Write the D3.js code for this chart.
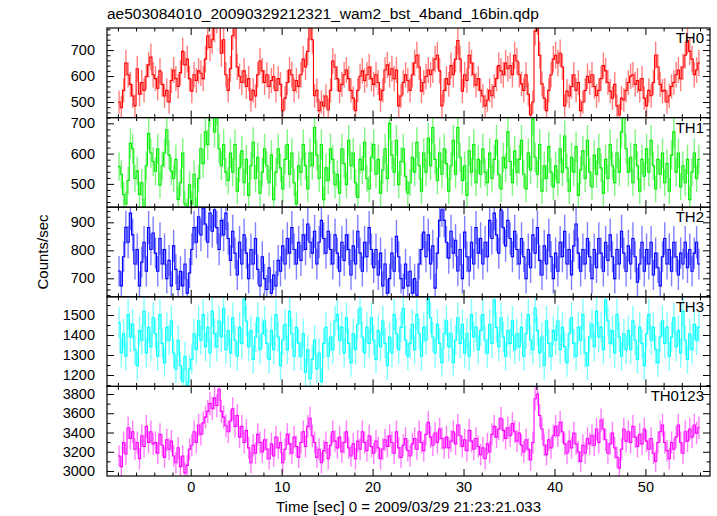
<!DOCTYPE html>
<html><head><meta charset="utf-8">
<script src="https://cdn.jsdelivr.net/npm/d3@7"></script>
<style>
body{margin:0;background:#fff;}
svg text{font-family:"Liberation Sans",Arial,Helvetica,sans-serif;fill:#000;}
</style></head>
<body><svg id="c" width="717" height="516"></svg>
<script>
const title = "ae503084010_20090329212321_wam2_bst_4band_16bin.qdp";
const xLabel = "Time [sec] 0 = 2009/03/29 21:23:21.033";
const yLabel = "Counts/sec";
const binStart = -8, binWidth = 0.25;
const xDomain = [-9.2, 57.1];
const xMajor = [0, 10, 20, 30, 40, 50];
const panelNames = ["TH0", "TH1", "TH2", "TH3", "TH0123"];
const panelColors = ["#ff0000", "#00ee00", "#0000ff", "#00ffff", "#ff00ff"];
const yDomains = [[440, 785], [423, 719], [634, 954], [1143, 1591], [2948, 3879]];
const yMajors = [[500, 600, 700], [500, 600, 700], [700, 800, 900], [1200, 1300, 1400, 1500], [3000, 3200, 3400, 3600, 3800]];
const yMinorStep = [20, 20, 20, 50, 100];

const th0 = [
500,478,545,650,605,568,523,485,628,530,575,545,598,643,673,605,
590,553,620,568,523,545,500,583,623,590,560,613,695,643,665,590,
542,605,583,620,611,590,665,755,710,740,785,822,845,688,740,605,
545,628,755,800,635,599,575,620,560,590,508,545,523,605,658,620,
575,605,560,583,598,545,590,568,467,515,575,623,605,545,583,560,
605,665,635,695,795,740,524,545,467,500,485,523,470,545,658,635,
590,542,568,605,623,590,545,515,467,545,599,620,583,605,635,590,
568,605,575,508,545,623,643,605,628,590,623,485,523,575,605,583,
545,605,650,680,635,542,575,598,623,605,623,665,680,620,485,545,
590,568,640,605,665,737,665,542,605,583,680,650,605,565,590,545,
523,485,508,545,524,560,590,640,620,605,650,628,640,605,680,658,
605,570,545,605,530,450,500,773,815,680,570,515,467,545,605,665,
680,650,688,635,485,542,523,560,605,545,575,467,500,545,599,575,
605,560,524,545,590,640,620,575,542,515,568,485,450,515,508,545,
575,599,605,568,583,545,590,515,485,545,524,575,680,635,568,542,
545,500,524,560,575,605,623,590,635,680,737,695,665,605,623,650];

const th1 = [
557,532,465,434,511,634,616,518,543,465,504,413,560,666,602,574,
542,616,496,560,602,679,595,542,518,581,449,504,602,434,413,497,
434,532,413,518,616,567,672,630,742,784,672,749,616,560,630,539,
511,602,539,630,476,553,609,504,581,462,560,637,518,588,469,539,
616,560,504,595,448,539,616,553,483,581,630,532,602,504,434,560,
539,630,560,483,602,560,686,595,518,630,448,553,511,616,581,497,
532,469,616,567,497,644,560,602,504,455,581,546,637,518,483,588,
630,532,581,469,546,616,518,700,595,539,644,497,574,616,525,469,
504,588,539,637,560,476,602,539,651,560,686,581,511,602,532,616,
567,476,560,644,532,686,588,511,560,462,609,539,630,504,581,532,
616,539,504,602,518,581,644,532,483,588,553,672,574,504,609,539,
581,644,532,483,602,546,714,588,532,630,476,560,518,623,539,490,
560,504,616,539,658,553,476,588,539,623,462,546,609,518,644,539,
490,595,532,616,553,469,581,518,630,560,504,602,539,672,770,616,
539,588,504,630,560,476,581,525,616,539,644,560,483,581,532,602,
504,567,476,595,672,539,602,490,560,504,581,448,539,602,518,581];

const th2 = [
726,673,777,882,829,933,855,751,803,673,758,829,725,881,803,862,
790,725,842,751,803,699,764,673,816,732,660,725,673,751,647,719,
803,881,829,920,855,950,894,829,933,868,945,881,803,907,855,933,
842,764,868,790,712,829,751,855,790,699,803,751,842,732,673,777,
699,660,738,647,712,673,764,725,816,751,842,790,881,803,751,829,
764,855,803,894,829,790,868,751,829,907,842,790,868,803,751,855,
790,725,829,764,855,803,712,816,751,868,790,725,829,777,881,803,
738,803,712,790,673,751,647,699,790,725,850,777,699,665,751,673,
725,647,699,640,751,803,865,777,855,751,816,665,790,907,945,907,
829,772,868,790,836,726,803,699,865,777,726,829,751,881,790,842,
751,829,777,907,842,933,855,790,945,881,816,907,842,777,868,803,
751,842,777,699,803,738,855,790,881,764,712,816,751,855,777,699,
790,725,829,777,868,751,803,712,816,894,790,725,803,751,842,777,
699,803,738,842,790,725,829,764,855,777,699,803,751,868,790,725,
816,751,842,777,686,751,829,725,803,751,829,712,790,738,673,777,
842,751,803,725,829,777,712,790,751,829,738,803,725,790,829,751];

const th3 = [
1462,1310,1406,1294,1502,1390,1454,1326,1246,1422,1374,1518,1310,1438,1342,1486,
1406,1294,1502,1358,1262,1438,1374,1470,1310,1230,1374,1246,1166,1294,1102,1230,
1278,1406,1326,1470,1374,1502,1342,1438,1310,1518,1406,1342,1470,1390,1534,1326,
1422,1310,1486,1374,1294,1438,1358,1580,1470,1342,1422,1278,1390,1486,1326,1406,
1470,1358,1278,1422,1326,1502,1390,1246,1374,1454,1326,1518,1406,1294,1438,1358,
1294,1406,1214,1326,1182,1278,1374,1230,1310,1166,1358,1438,1294,1390,1326,1470,
1502,1374,1438,1310,1486,1358,1262,1406,1326,1454,1534,1390,1310,1438,1358,1486,
1374,1278,1422,1342,1470,1358,1246,1390,1310,1502,1406,1326,1438,1534,1374,1294,
1358,1454,1326,1502,1406,1294,1438,1374,1585,1486,1390,1310,1454,1358,1262,1406,
1470,1342,1406,1262,1374,1486,1358,1454,1310,1406,1294,1502,1390,1438,1326,1422,
1502,1374,1310,1454,1358,1575,1438,1342,1486,1390,1294,1422,1358,1470,1326,1406,
1342,1438,1294,1406,1502,1374,1326,1534,1422,1310,1390,1246,1470,1358,1294,1422,
1374,1470,1326,1438,1342,1262,1406,1486,1358,1294,1438,1374,1502,1310,1246,1390,
1454,1342,1518,1390,1438,1326,1575,1470,1358,1422,1310,1502,1390,1294,1406,1326,
1422,1326,1470,1374,1278,1438,1358,1246,1406,1502,1374,1438,1326,1262,1390,1470,
1358,1438,1294,1390,1486,1342,1422,1310,1518,1374,1278,1406,1326,1454,1374,1438];

const th0123 = [
3156,3044,3296,3177,3450,3338,3408,3226,3296,3128,3366,3254,3464,3296,3408,3282,
3296,3184,3380,3268,3142,3324,3226,3310,3156,3086,3240,3044,3156,2980,3058,3226,
3268,3408,3296,3478,3380,3500,3560,3620,3700,3650,3760,3680,3850,3620,3560,3470,
3408,3520,3646,3464,3576,3352,3464,3296,3422,3240,3086,3268,3184,3380,3296,3198,
3324,3226,3128,3282,3156,3352,3240,3296,3086,3226,3380,3282,3184,3352,3254,3142,
3296,3408,3254,3464,3548,3366,3296,3142,3226,3086,3212,3296,3128,3268,3408,3310,
3240,3352,3198,3296,3408,3240,3156,3282,3128,3310,3226,3408,3296,3212,3366,3254,
3184,3310,3240,3128,3226,3324,3254,3366,3296,3184,3408,3240,3142,3268,3338,3212,
3156,3282,3338,3226,3408,3296,3212,3380,3506,3352,3268,3394,3296,3436,3338,3240,
3352,3240,3310,3408,3282,3478,3366,3254,3324,3212,3422,3310,3226,3338,3254,3170,
3240,3128,3282,3198,3380,3464,3352,3436,3548,3422,3338,3450,3366,3492,3408,3310,
3394,3268,3198,3324,3226,3114,3296,3750,3800,3576,3436,3268,3170,3324,3240,3366,
3464,3366,3506,3408,3282,3184,3310,3240,3394,3282,3198,3100,3268,3184,3338,3282,
3366,3268,3436,3296,3530,3436,3324,3184,3282,3394,3240,3142,3030,3226,3436,3310,
3408,3296,3464,3352,3254,3380,3282,3436,3310,3226,3338,3184,3100,3296,3408,3478,
3296,3212,3128,3296,3226,3352,3478,3296,3184,3408,3310,3436,3352,3478,3394,3450];

const series = [th0, th1, th2, th3, th0123];

(function () {
const mLeft = 107, mRight = 710, mTop = 28, mBottom = 476;
const ph = (mBottom - mTop) / 5;
const svg = d3.select("#c");
const x = d3.scaleLinear().domain(xDomain).range([mLeft, mRight]);
const xMinor = d3.range(-8, 57, 2).filter(v => !xMajor.includes(v));
const fmt = d3.format("d");

svg.append("text").attr("x", mLeft).attr("y", 19).attr("font-size", 15.5).text(title);

const defs = svg.append("defs");

series.forEach((vals, p) => {
  const y0 = mTop + p * ph, y1 = y0 + ph;
  const y = d3.scaleLinear().domain(yDomains[p]).range([y1, y0]);
  const g = svg.append("g");
  const cid = "clip" + p;
  defs.append("clipPath").attr("id", cid).append("rect")
    .attr("x", mLeft).attr("y", y0).attr("width", mRight - mLeft).attr("height", ph);
  const data = vals.map((v, i) => ({t0: binStart + i * binWidth, t1: binStart + (i + 1) * binWidth, v, e: Math.sqrt(v / binWidth)}));
  const dg = g.append("g").attr("clip-path", `url(#${cid})`);
  dg.selectAll("line.err").data(data).join("line").attr("class", "err")
    .attr("x1", d => x((d.t0 + d.t1) / 2)).attr("x2", d => x((d.t0 + d.t1) / 2))
    .attr("y1", d => y(d.v - d.e)).attr("y2", d => y(d.v + d.e))
    .attr("stroke", panelColors[p]).attr("stroke-width", 1.4).attr("stroke-opacity", 0.5);
  const pts = [];
  data.forEach(d => { pts.push([d.t0, d.v]); pts.push([d.t1, d.v]); });
  dg.append("path").attr("d", d3.line().x(d => x(d[0])).y(d => y(d[1]))(pts))
    .attr("fill", "none").attr("stroke", panelColors[p]).attr("stroke-width", 1.1);

  const [lo, hi] = yDomains[p];
  const st = yMinorStep[p];
  const yMinor = d3.range(Math.ceil(lo / st) * st, hi, st).filter(v => !yMajors[p].includes(v));

  const style = sel => { sel.select(".domain").remove(); sel.selectAll("line").attr("stroke", "#000").attr("stroke-width", 1); sel.selectAll("text").attr("font-size", 14.5).attr("font-family", "Liberation Sans, Arial, sans-serif").attr("fill", "#000"); };

  g.append("g").attr("transform", `translate(${mLeft},0)`)
    .call(d3.axisLeft(y).tickValues(yMajors[p]).tickSize(-7).tickPadding(12).tickFormat(fmt)).call(style);
  g.append("g").attr("transform", `translate(${mLeft},0)`)
    .call(d3.axisLeft(y).tickValues(yMinor).tickSize(-3.5).tickFormat("")).call(style);
  g.append("g").attr("transform", `translate(${mRight},0)`)
    .call(d3.axisRight(y).tickValues(yMajors[p]).tickSize(-7).tickFormat("")).call(style);
  g.append("g").attr("transform", `translate(${mRight},0)`)
    .call(d3.axisRight(y).tickValues(yMinor).tickSize(-3.5).tickFormat("")).call(style);

  g.append("g").attr("transform", `translate(0,${y0})`)
    .call(d3.axisTop(x).tickValues(xMajor).tickSize(-7).tickFormat("")).call(style);
  g.append("g").attr("transform", `translate(0,${y0})`)
    .call(d3.axisTop(x).tickValues(xMinor).tickSize(-3.5).tickFormat("")).call(style);
  const xb = d3.axisBottom(x).tickValues(xMajor).tickSize(-7).tickPadding(6).tickFormat(fmt);
  if (p < 4) xb.tickFormat("");
  g.append("g").attr("transform", `translate(0,${y1})`).call(xb).call(style);
  g.append("g").attr("transform", `translate(0,${y1})`)
    .call(d3.axisBottom(x).tickValues(xMinor).tickSize(-3.5).tickFormat("")).call(style);

  g.append("rect").attr("x", mLeft).attr("y", y0).attr("width", mRight - mLeft).attr("height", ph)
    .attr("fill", "none").attr("stroke", "#000").attr("stroke-width", 1.2);

  g.append("text").attr("x", mRight - 6).attr("y", y0 + 15).attr("text-anchor", "end")
    .attr("font-size", 15).text(panelNames[p]);
});

svg.append("text").attr("x", (mLeft + mRight) / 2).attr("y", 512).attr("text-anchor", "middle")
  .attr("font-size", 15).text(xLabel);
svg.append("text").attr("transform", `translate(48,${(mTop + mBottom) / 2}) rotate(-90)`)
  .attr("text-anchor", "middle").attr("font-size", 15).text(yLabel);
})();
</script></body></html>
